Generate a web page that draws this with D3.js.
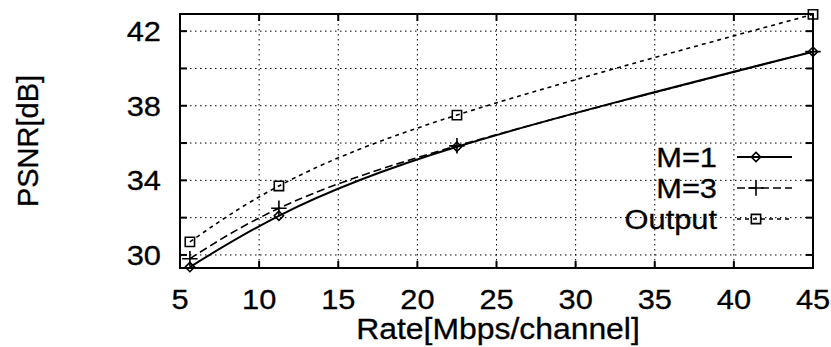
<!DOCTYPE html>
<html lang="en">
<head>
<meta charset="UTF-8">
<title>PSNR vs Rate</title>
<script src="https://d3js.org/d3.v7.min.js"></script>
<style>
  body { margin: 0; background: #fff; }
  text { font-family: "Liberation Sans", Arial, Helvetica, sans-serif; fill: #000; stroke: #000; stroke-width: 0.3px; }
</style>
</head>
<body>
<svg id="plot" width="831" height="347"></svg>
<script>
    // data
    const rates = [5.625, 11.25, 22.5, 45];
    const m1 = [29.35, 32.1, 35.8, 40.9];
    const m3 = [29.8, 32.5, 35.85, 40.9];
    const output = [30.7, 33.7, 37.5, 42.9];
    const seriesNames = ["M=1", "M=3", "Output"];
    const xTicks = [5, 10, 15, 20, 25, 30, 35, 40, 45];
    const yTicks = [30, 32, 34, 36, 38, 40, 42];
    const yLabels = [30, 34, 38, 42];

    const plotLeft = 180, plotRight = 813, plotTop = 14, plotBottom = 268;
    const stretch = 1.1; // the original text is a bit wide

    const svg = d3.select("#plot");

    const x = d3.scaleLinear().domain([5, 45]).range([plotLeft, plotRight]);
    const y = d3.scaleLinear().domain([29.3, 42.92]).range([plotBottom, plotTop]);

    var place = function (px, py) {
        return "translate(" + px + "," + py + ") scale(" + stretch + ",1)";
    };

    // dotted grid
    const grid = svg.append("g")
        .attr("stroke", "#000")
        .attr("stroke-width", 1)
        .attr("stroke-dasharray", "1.5,3.5");
    grid.selectAll(".gx").data(xTicks.slice(1, -1)).join("line")
        .attr("x1", d => x(d)).attr("x2", d => x(d))
        .attr("y1", plotTop).attr("y2", plotBottom);
    grid.selectAll(".gy").data(yTicks).join("line")
        .attr("x1", plotLeft).attr("x2", plotRight)
        .attr("y1", d => y(d)).attr("y2", d => y(d));

    // frame + inward ticks
    const tickLen = 7;
    svg.append("rect")
        .attr("x", plotLeft).attr("y", plotTop)
        .attr("width", plotRight - plotLeft).attr("height", plotBottom - plotTop)
        .attr("fill", "none").attr("stroke", "#000").attr("stroke-width", 2);

    const ticks = svg.append("g").attr("stroke", "#000").attr("stroke-width", 2);
    xTicks.forEach(function (t) {
        ticks.append("line").attr("x1", x(t)).attr("x2", x(t)).attr("y1", plotBottom).attr("y2", plotBottom - tickLen);
        ticks.append("line").attr("x1", x(t)).attr("x2", x(t)).attr("y1", plotTop).attr("y2", plotTop + tickLen);
    });
    yTicks.forEach(function (t) {
        ticks.append("line").attr("x1", plotLeft).attr("x2", plotLeft + tickLen).attr("y1", y(t)).attr("y2", y(t));
        ticks.append("line").attr("x1", plotRight).attr("x2", plotRight - tickLen).attr("y1", y(t)).attr("y2", y(t));
    });

    // tick labels
    svg.append("g").selectAll("text").data(xTicks).join("text")
        .attr("transform", d => place(x(d), 309))
        .attr("text-anchor", "middle")
        .style("font-size", "28px")
        .text(d => d);
    svg.append("g").selectAll("text").data(yLabels).join("text")
        .attr("transform", d => place(161, y(d)))
        .attr("dy", "0.36em")
        .attr("text-anchor", "end")
        .style("font-size", "28px")
        .text(d => d);

    // axis titles
    svg.append("text")
        .attr("transform", place(498, 339))
        .attr("text-anchor", "middle")
        .style("font-size", "29px")
        .text("Rate[Mbps/channel]");
    svg.append("text")
        .attr("transform", "translate(38,141) rotate(-90)")
        .attr("text-anchor", "middle")
        .style("font-size", "29px")
        .text("PSNR[dB]");

    // series
    const series = [
        { name: seriesNames[0], values: m1, dash: null, marker: "diamond" },
        { name: seriesNames[1], values: m3, dash: "8,4", marker: "plus" },
        { name: seriesNames[2], values: output, dash: "4,4", marker: "square" }
    ];

    const line = d3.line()
        .x(d => x(d[0])).y(d => y(d[1]))
        .curve(d3.curveNatural);

    const symbols = {
        diamond: d3.symbol().type(d3.symbolDiamond2).size(55),
        plus: d3.symbol().type(d3.symbolPlus).size(80),
        square: d3.symbol().type(d3.symbolSquare2).size(110)
    };

    series.forEach(function (s) {
        const pts = rates.map((r, i) => [r, s.values[i]]);
        svg.append("path")
            .attr("d", line(pts))
            .attr("fill", "none")
            .attr("stroke", "#000")
            .attr("stroke-width", s.dash ? 1.6 : 2)
            .attr("stroke-dasharray", s.dash);
        svg.append("g").selectAll("path").data(pts).join("path")
            .attr("transform", d => "translate(" + x(d[0]) + "," + y(d[1]) + ")")
            .attr("d", symbols[s.marker])
            .attr("fill", "none")
            .attr("stroke", "#000")
            .attr("stroke-width", 1.6);
    });

    // legend
    const legend = svg.append("g");
    series.forEach(function (s, i) {
        const ly = 157 + i * 31;
        legend.append("text")
            .attr("transform", place(717, ly))
            .attr("dy", "0.36em")
            .attr("text-anchor", "end")
            .style("font-size", "28px")
            .text(s.name);
        legend.append("line")
            .attr("x1", 737).attr("x2", 792)
            .attr("y1", ly).attr("y2", ly)
            .attr("stroke", "#000")
            .attr("stroke-width", s.dash ? 1.6 : 2)
            .attr("stroke-dasharray", s.dash);
        legend.append("path")
            .attr("transform", "translate(756," + ly + ")")
            .attr("d", symbols[s.marker])
            .attr("fill", "none")
            .attr("stroke", "#000")
            .attr("stroke-width", 1.6);
    });
</script>
</body>
</html>
